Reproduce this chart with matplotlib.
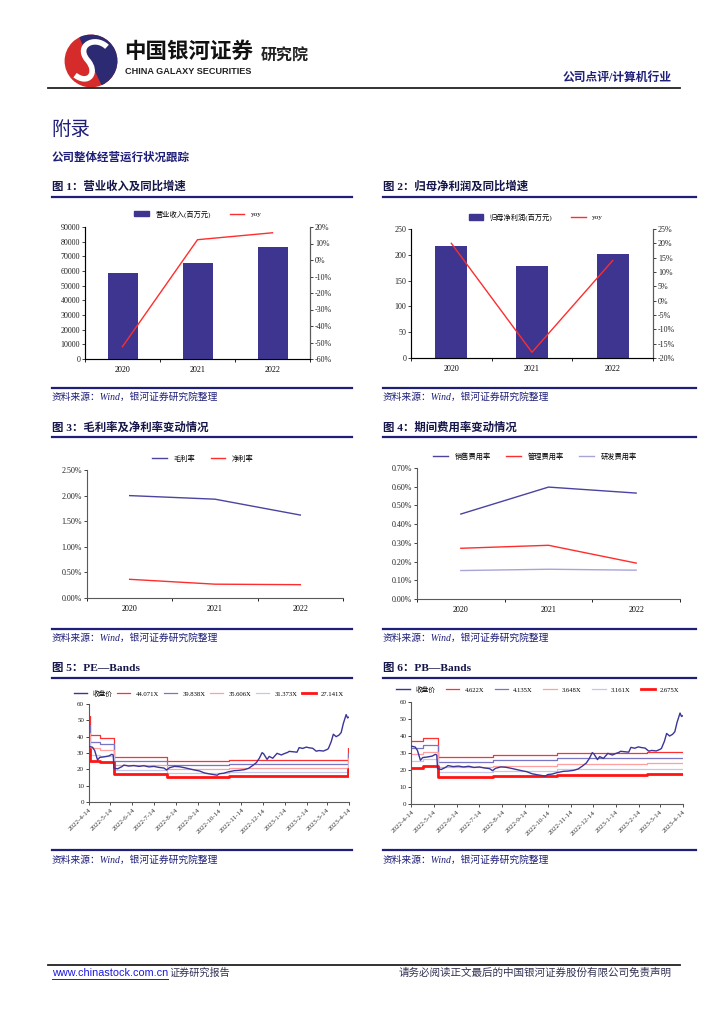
import numpy as np
import pandas as pd
import matplotlib
matplotlib.use("Agg")
import matplotlib.pyplot as plt
from matplotlib.lines import Line2D
from matplotlib.patches import Circle, Wedge, PathPatch, Patch
from matplotlib.path import Path

W, H = 724, 1024
plt.rcParams['font.family'] = ['Liberation Serif', 'Noto Sans CJK SC']
plt.rcParams['axes.unicode_minus'] = False

NAVY = '#1f1f7a'
BAR = '#3d3590'
RED = '#ff2d2d'
AXC = '#5a5a5a'

# ---- data read from the page ----
years = ['2020', '2021', '2022']
revenue = [58300, 65400, 76500]          # 营业收入(百万元)
revenue_yoy = [-52.5, 12.3, 16.5]        # %
profit = [217, 178.5, 202]               # 归母净利润(百万元)
profit_yoy = [20.0, -18.0, 14.0]         # %
gross_margin = [2.00, 1.93, 1.62]        # %
net_margin = [0.365, 0.27, 0.26]
sell_rate = [0.454, 0.598, 0.566]
admin_rate = [0.271, 0.287, 0.192]
rd_rate = [0.152, 0.159, 0.154]

close_dates = ['2022-04-14', '2022-04-19', '2022-04-22', '2022-04-26', '2022-04-29',
               '2022-05-06', '2022-05-12', '2022-05-16', '2022-05-18', '2022-05-19',
               '2022-05-24', '2022-05-30', '2022-06-02', '2022-06-09', '2022-06-16',
               '2022-06-23', '2022-06-30', '2022-07-07', '2022-07-14', '2022-07-21',
               '2022-07-28', '2022-08-01', '2022-08-05', '2022-08-12', '2022-08-19',
               '2022-08-26', '2022-09-02', '2022-09-09', '2022-09-16', '2022-09-23',
               '2022-09-30', '2022-10-11', '2022-10-14', '2022-10-20', '2022-10-27',
               '2022-11-04', '2022-11-11', '2022-11-18', '2022-11-24', '2022-11-30',
               '2022-12-05', '2022-12-09', '2022-12-13', '2022-12-15', '2022-12-20',
               '2022-12-23', '2022-12-28', '2023-01-03', '2023-01-09', '2023-01-13',
               '2023-01-18', '2023-01-20', '2023-01-31', '2023-02-03', '2023-02-08',
               '2023-02-13', '2023-02-17', '2023-02-22', '2023-02-27', '2023-03-03',
               '2023-03-09', '2023-03-14', '2023-03-16', '2023-03-20', '2023-03-23',
               '2023-03-27', '2023-03-31', '2023-04-03', '2023-04-06', '2023-04-10',
               '2023-04-12', '2023-04-14']
close_px = [34.0, 33.5, 31.5, 25.7, 27.3,
            27.7, 28.2, 29.2, 28.8, 20.8,
            20.3, 21.6, 22.6, 22.0, 22.3,
            21.8, 22.2, 21.5, 21.8, 21.2,
            20.8, 19.6, 21.0, 21.8, 21.6,
            21.0, 20.3, 19.6, 19.0, 17.8,
            17.2, 16.4, 17.3, 17.6, 18.5,
            19.2, 19.4, 19.8, 20.6, 22.4,
            24.1, 26.7, 30.2, 29.6, 26.1,
            27.9, 26.8, 29.8, 28.8, 29.6,
            30.4, 31.0, 30.5, 33.3, 32.8,
            33.6, 33.2, 32.9, 31.1, 31.5,
            31.2, 32.1, 32.7, 36.9, 41.5,
            40.0, 41.0, 42.5, 48.0, 53.5,
            51.5, 52.0]

pe_multiples = [44.071, 39.838, 35.606, 31.373, 27.141]
pe_change_dates = ['2022-04-14', '2022-04-15', '2022-04-29', '2022-05-19', '2022-08-01',
                   '2022-10-27', '2023-04-13', '2023-04-14']
pe_eps = [1.19, 0.925, 0.895, 0.63, 0.572, 0.585, 0.75, 0.75]

pb_multiples = [4.622, 4.135, 3.648, 3.161, 2.675]
pb_change_dates = ['2022-04-14', '2022-04-29', '2022-05-19', '2022-08-01', '2022-10-27',
                   '2023-02-24', '2023-04-14']
pb_bvps = [8.0, 8.42, 5.95, 6.2, 6.48, 6.6, 6.6]

band_colors = ['#ff3030', '#7a74c4', '#ff9f9f', '#c8c5ea', '#ff1414']
band_widths = [0.9, 0.9, 0.9, 0.9, 2.0]

fig = plt.figure(figsize=(7.24, 10.24), dpi=100)


def px_box(x0, y0, x1, y1):
    return [x0 / W, 1 - y1 / H, (x1 - x0) / W, (y1 - y0) / H]


def ftext(x, y, s, **kw):
    fig.text(x / W, 1 - y / H, s, **kw)


def hline(x0, x1, y, color, lw):
    fig.add_artist(Line2D([x0 / W, x1 / W], [1 - y / H, 1 - y / H], color=color,
                          lw=lw, transform=fig.transFigure))


def style_axis(ax, right=False):
    ax.spines['top'].set_visible(False)
    for s in ['left', 'bottom', 'right']:
        ax.spines[s].set_color(AXC)
        ax.spines[s].set_linewidth(0.8)
    if not right:
        ax.spines['right'].set_visible(False)
    ax.tick_params(axis='y', length=2, width=0.6, labelsize=5.8, pad=1.5, colors='#222222')


def cat_xaxis(ax):
    ax.set_xlim(-0.5, 2.5)
    ax.set_xticks([0, 1, 2])
    ax.set_xticklabels(years)
    ax.set_xticks([-0.5, 0.5, 1.5, 2.5], minor=True)
    ax.tick_params(axis='x', which='major', length=0, labelsize=5.8, pad=5)
    ax.tick_params(axis='x', which='minor', length=2.5, width=0.6)


def legend_at(ax, handles, labels, cx, cy, **kw):
    ax.legend(handles, labels, loc='center', bbox_to_anchor=(cx / W, 1 - cy / H),
              bbox_transform=fig.transFigure, ncol=len(labels), frameon=False,
              fontsize=5.2, handlelength=2.0, handletextpad=0.9, **kw)


def bar_chart(box, vals, yoy, yl, ystep, y2l, y2step, bar_label, leg_xy):
    ax = fig.add_axes(px_box(*box))
    x = np.arange(len(years))
    ax.bar(x, vals, width=0.4, color=BAR)
    ax.set_ylim(*yl)
    ticks = np.arange(yl[0], yl[1] + 1e-9, ystep)
    ax.set_yticks(ticks)
    ax.set_yticklabels([f'{t:.0f}' for t in ticks])
    cat_xaxis(ax)
    style_axis(ax, right=True)
    ax2 = ax.twinx()
    ax2.plot(x, yoy, color=RED, lw=1.0)
    ax2.set_ylim(*y2l)
    t2 = np.arange(y2l[0], y2l[1] + 1e-9, y2step)
    ax2.set_yticks(t2)
    ax2.set_yticklabels([f'{t:.0f}%' for t in t2])
    ax2.spines['top'].set_visible(False)
    ax2.spines['right'].set_color(AXC)
    ax2.spines['right'].set_linewidth(0.8)
    ax2.tick_params(axis='y', length=2, width=0.6, labelsize=5.8, pad=1.5, colors='#222222')
    handles = [Patch(color=BAR), Line2D([0], [0], color=RED, lw=1.0)]
    legend_at(ax, handles, [bar_label, 'yoy'], *leg_xy, columnspacing=2.6)


def line_chart(box, series, colors, labels, yl, ystep, leg_xy, cs):
    ax = fig.add_axes(px_box(*box))
    x = np.arange(len(years))
    handles = []
    for s, c in zip(series, colors):
        h, = ax.plot(x, s, color=c, lw=1.0)
        handles.append(h)
    ax.set_ylim(*yl)
    ticks = np.arange(yl[0], yl[1] + 1e-9, ystep)
    ax.set_yticks(ticks)
    ax.set_yticklabels([f'{t:.2f}%' for t in ticks])
    cat_xaxis(ax)
    style_axis(ax)
    legend_at(ax, handles, labels, *leg_xy, columnspacing=cs)


def band_chart(box, multiples, change_dates, base, leg_xy, leg_width):
    ax = fig.add_axes(px_box(*box))
    cd = pd.to_datetime(change_dates)
    handles = []
    for m, c, lw in zip(multiples, band_colors, band_widths):
        h, = ax.step(cd, [m * b for b in base], where='post', color=c, lw=lw)
        handles.append(h)
    hc, = ax.plot(pd.to_datetime(close_dates), close_px, color='#3b3598', lw=1.0, zorder=5)
    ax.set_xlim(pd.Timestamp('2022-04-14'), pd.Timestamp('2023-04-14'))
    ax.set_ylim(0, 60)
    ax.set_yticks(range(0, 61, 10))
    ticks = pd.date_range('2022-04-14', '2023-04-14', freq=pd.DateOffset(months=1))
    ax.set_xticks(ticks)
    ax.set_xticklabels([f'{d.year}-{d.month}-{d.day}' for d in ticks], rotation=45,
                       ha='right', rotation_mode='anchor')
    ax.tick_params(axis='x', length=2, width=0.6, labelsize=5.0, pad=2, colors='#333333')
    style_axis(ax)
    ax.tick_params(axis='y', labelsize=5.0)
    labels = ['收盘价'] + [f'{m:.3f}X' for m in multiples]
    ax.legend([hc] + handles, labels, loc='center', bbox_to_anchor=(leg_xy[0] / W, 1 - leg_xy[1] / H),
              bbox_transform=fig.transFigure, ncol=6, frameon=False, fontsize=4.8,
              handlelength=2.0, handletextpad=0.8, columnspacing=leg_width)


# ---- header ----
lax = fig.add_axes(px_box(64, 34, 118, 88))
lax.set_xlim(-1.05, 1.05)
lax.set_ylim(-1.05, 1.05)
lax.set_aspect('equal')
lax.axis('off')
lax.add_patch(Circle((0, 0), 1.0, color='#d62b2b'))
lax.add_patch(Wedge((0, 0), 1.0, -65, 115, color='#2c2a72'))
s_path = Path([(0.62, 0.55), (0.15, 1.0), (-0.6, 0.6), (-0.15, 0.05),
               (0.3, -0.45), (-0.1, -0.95), (-0.62, -0.55)],
              [Path.MOVETO, Path.CURVE4, Path.CURVE4, Path.CURVE4,
               Path.CURVE4, Path.CURVE4, Path.CURVE4])
lax.add_patch(PathPatch(s_path, fill=False, ec='white', lw=4))

ftext(124, 51, '中国银河证券', fontsize=15.5, fontweight='bold', color='#111111',
      family=['Noto Sans CJK SC'], va='center')
ftext(125, 71, 'CHINA GALAXY SECURITIES', fontsize=6.6, fontweight='bold', color='#222222',
      family=['Liberation Sans Narrow', 'Liberation Sans'], va='center')
ftext(261, 56, '研究院', fontsize=11.5, fontweight='bold', color='#222222',
      family=['Noto Sans CJK SC'], va='center')
ftext(672, 78, '公司点评/计算机行业', fontsize=8.5, fontweight='bold', color=NAVY,
      ha='right', va='center')
hline(48, 680, 88, '#222222', 1.3)

ftext(51, 130, '附录', fontsize=14, color=NAVY, va='center')
ftext(52, 158, '公司整体经营运行状况跟踪', fontsize=8.3, fontweight='bold', color=NAVY, va='center')

# ---- chart frames: titles, rules, sources ----
frames = [
    (52, 352, 186.5, 196.5, 387.5, 397, '图 1：营业收入及同比增速'),
    (383, 696, 186.5, 196.5, 387.5, 397, '图 2：归母净利润及同比增速'),
    (52, 352, 427, 437, 628.5, 638, '图 3：毛利率及净利率变动情况'),
    (383, 696, 427, 437, 628.5, 638, '图 4：期间费用率变动情况'),
    (52, 352, 668, 678, 850, 860, '图 5：PE—Bands'),
    (383, 696, 668, 678, 850, 860, '图 6：PB—Bands'),
]
for x0, x1, ty, ly, sy, st, title in frames:
    ftext(x0, ty, title, fontsize=8.2, fontweight='bold', color='#15154a', va='center')
    hline(x0, x1, ly, NAVY, 1.6)
    hline(x0, x1, sy, NAVY, 1.6)
    ftext(x0, st, '资料来源：Wind，银河证券研究院整理', fontsize=7, style='italic',
          color=NAVY, va='center')

# ---- charts ----
bar_chart((85, 227, 310, 359), revenue, revenue_yoy, (0, 90000), 10000, (-60, 20), 10,
          '营业收入(百万元)', (198, 214))
bar_chart((411, 229, 653, 358), profit, profit_yoy, (0, 250), 50, (-20, 25), 5,
          '归母净利润(百万元)', (536, 217))
line_chart((87, 470, 343, 598), [gross_margin, net_margin], ['#4b44a0', RED],
           ['毛利率', '净利率'], (0, 2.5), 0.5, (203, 458), 2.2)
line_chart((417, 468, 680, 599), [sell_rate, admin_rate, rd_rate],
           ['#4a43a0', RED, '#a8a4d8'], ['销售费用率', '管理费用率', '研发费用率'],
           (0, 0.7), 0.1, (535, 456), 2.2)
band_chart((89, 704, 349, 802), pe_multiples, pe_change_dates, pe_eps, (209, 693), 0.7)
band_chart((411.5, 702, 683, 804), pb_multiples, pb_change_dates, pb_bvps, (538, 689), 1.6)

# ---- footer ----
hline(48, 680, 965, '#222222', 1.3)
ftext(52, 973, 'www.chinastock.com.cn', fontsize=7.8, color='#1a1adc',
      family=['Liberation Sans'], va='center')
hline(52, 168, 979, '#1a1adc', 0.7)
ftext(170, 973, '证券研究报告', fontsize=7.3, color='#333355', va='center')
ftext(672, 973, '请务必阅读正文最后的中国银河证券股份有限公司免责声明', fontsize=7.6,
      color='#333355', ha='right', va='center')

fig.savefig('out.png', dpi=100)
